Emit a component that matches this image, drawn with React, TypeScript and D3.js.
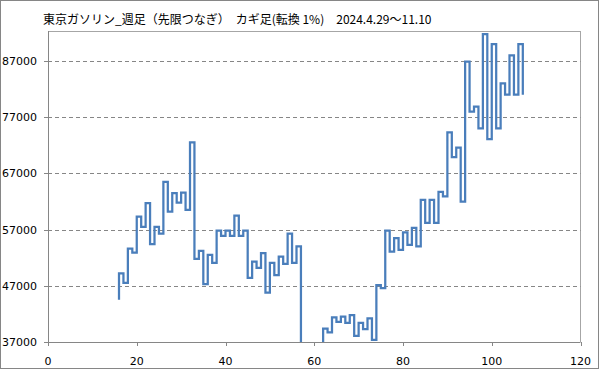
import React from 'react';
import * as d3 from 'd3';

// カギ足: 最初の縦線の x 位置と、各縦線の終点の値（先頭は始点）
const kagiStartX = 16;
const kagiValues = [
  44500,
  49200, 47500, 53600, 52900, 59300, 57500, 61700, 54400, 57500, 56300,
  65500, 60200, 63500, 61800, 63600, 60500, 72500, 51800, 53200, 47300,
  52500, 51100, 56800, 55900, 56800, 55900, 59500, 55900, 56800, 48400,
  51300, 50200, 52800, 45800, 51100, 48900, 52200, 50900, 56300, 51100,
  54000, 33000, 35500, 34000, 36000, 34500, 39400, 38700, 41400, 40600,
  41500, 40400, 41800, 38100, 40400, 39300, 41200, 37400, 47100, 46600,
  56800, 53100, 55500, 53400, 56500, 54300, 57300, 54000, 62300, 58200,
  62300, 58200, 63700, 62900, 74300, 69900, 71600, 62000, 86900, 78000,
  78900, 75000, 91800, 73100, 90000, 75000, 83000, 81000, 88000, 81000,
  90000, 81000
];
const yTicks = [37000, 47000, 57000, 67000, 77000, 87000];
const xTicks = [0, 20, 40, 60, 80, 100, 120];
const title = '東京ガソリン_週足（先限つなぎ）　カギ足(転換 1%)　2024.4.29～11.10';

const W = 599;
const H = 369;
const plot = { left: 48, right: 580.5, top: 31, bottom: 342 };

export default function App(): JSX.Element {
  const x = d3.scaleLinear().domain([0, 120]).range([plot.left, plot.right]);
  const y = d3.scaleLinear().domain([37000, 92340]).range([plot.bottom, plot.top]);

  // 縦 → 横 → 縦 ... の折れ線を作る
  const pts: [number, number][] = [];
  for (let i = 0; i < kagiValues.length - 1; i++) {
    const xi = kagiStartX + i;
    if (i === 0) pts.push([xi, kagiValues[0]]);
    pts.push([xi, kagiValues[i + 1]]);
    if (i < kagiValues.length - 2) pts.push([xi + 1, kagiValues[i + 1]]);
  }
  const line = d3
    .line<[number, number]>()
    .x((d) => x(d[0]))
    .y((d) => y(d[1]));

  const axisColor = '#868686';
  const font = '"DejaVu Sans", sans-serif';

  return (
    <svg width={W} height={H} style={{ position: 'absolute', left: 0, top: 0 }}>
      <rect x={0} y={0} width={W} height={H} fill="#fff" />
      <rect x={0.5} y={0.5} width={W - 1} height={H - 1} fill="none" stroke={axisColor} />
      <defs>
        <clipPath id="plotClip">
          <rect x={plot.left} y={plot.top} width={plot.right - plot.left} height={plot.bottom - plot.top} />
        </clipPath>
      </defs>

      {/* 枠 */}
      <line x1={plot.left} x2={plot.right} y1={plot.top + 0.5} y2={plot.top + 0.5} stroke="#a6a6a6" />
      <line x1={plot.right} x2={plot.right} y1={plot.top} y2={plot.bottom} stroke="#a6a6a6" />

      {/* グリッド */}
      {yTicks.slice(1).map((t) => (
        <line
          key={t}
          x1={plot.left}
          x2={plot.right}
          y1={Math.round(y(t)) + 0.5}
          y2={Math.round(y(t)) + 0.5}
          stroke={axisColor}
          strokeDasharray="4,3"
        />
      ))}

      <path
        d={line(pts) || ''}
        fill="none"
        stroke="#4a7ebb"
        strokeWidth={2.25}
        strokeLinejoin="miter"
        clipPath="url(#plotClip)"
      />

      {/* 軸 */}
      <line x1={plot.left + 0.5} x2={plot.left + 0.5} y1={plot.top} y2={plot.bottom} stroke={axisColor} />
      <line x1={plot.left} x2={plot.right} y1={plot.bottom + 0.5} y2={plot.bottom + 0.5} stroke={axisColor} />
      {yTicks.map((t) => (
        <g key={t}>
          <line x1={plot.left - 4} x2={plot.left} y1={Math.round(y(t)) + 0.5} y2={Math.round(y(t)) + 0.5} stroke={axisColor} />
          <text x={37} y={y(t) + 4} textAnchor="end" fontFamily={font} fontSize={11} fill="#000">
            {t}
          </text>
        </g>
      ))}
      {xTicks.map((t) => (
        <g key={t}>
          <line x1={Math.round(x(t)) + 0.5} x2={Math.round(x(t)) + 0.5} y1={plot.bottom} y2={plot.bottom + 4} stroke={axisColor} />
          <text x={x(t)} y={365} textAnchor="middle" fontFamily={font} fontSize={11} fill="#000">
            {t}
          </text>
        </g>
      ))}

      <text x={43} y={24} fontFamily='"Noto Sans CJK JP", sans-serif' fontSize={12} fill="#000">
        {title}
      </text>
    </svg>
  );
}
